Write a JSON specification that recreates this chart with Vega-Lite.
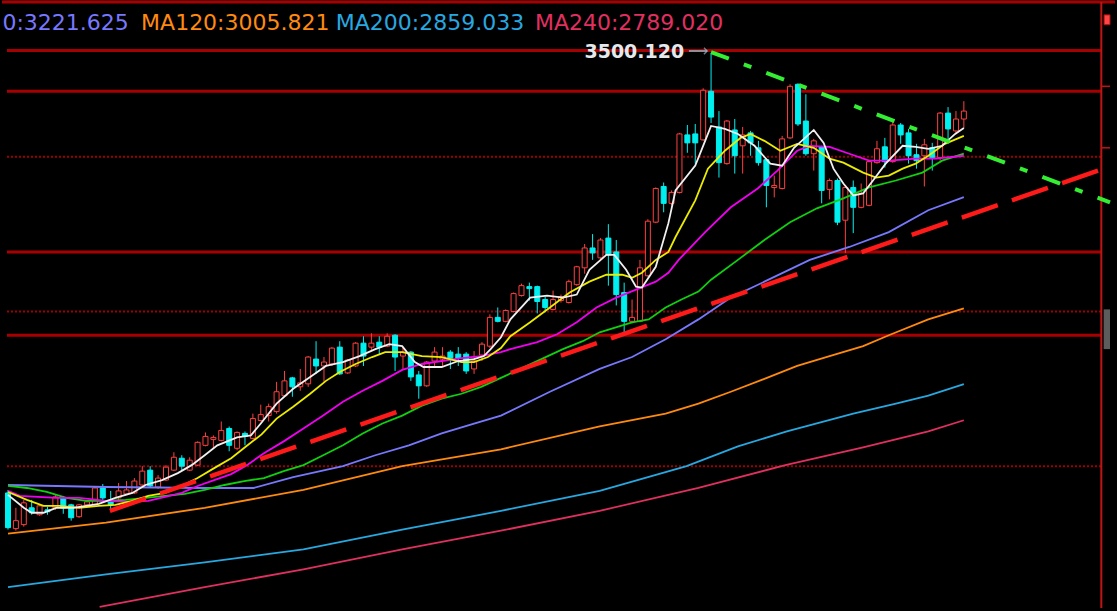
{
"$schema": "https://vega.github.io/schema/vega-lite/v6.json",
"width": 1117, "height": 611,
"autosize": {"type": "fit", "contains": "padding"},
"padding": 0,
"background": "#000000",
"config": {"view": {"stroke": null}},
"datasets": {
"levels": [{"p":3600,"k":"top"},{"p":3505.8,"k":"solid"},{"p":3426.9,"k":"solid"},{"p":3115.4,"k":"solid"},{"p":2953.9,"k":"solid"},{"p":3300,"k":"dot"},{"p":3000,"k":"dot"},{"p":2700,"k":"dot"}],
"edge": [{"i":138.4}],
"sideticks": [{"p":3436.5},{"p":3317.3}],
"sidemark": [{"i":138.75,"i2":139.5,"p":3575,"p2":3556}],
"sidescroll": [{"i":138.7,"i2":139.5,"p":3004,"p2":2927}],
"candles": [
{"i":0,"o":2648.1,"h":2653.9,"l":2577.0,"c":2580.8},
{"i":1,"o":2578.9,"h":2619.3,"l":2575.0,"c":2594.3},
{"i":2,"o":2586.6,"h":2634.6,"l":2582.7,"c":2628.9},
{"i":3,"o":2619.3,"h":2634.6,"l":2605.8,"c":2609.7},
{"i":4,"o":2605.8,"h":2626.9,"l":2603.9,"c":2623.1},
{"i":5,"o":2615.4,"h":2621.2,"l":2605.8,"c":2611.6},
{"i":6,"o":2619.3,"h":2644.3,"l":2615.4,"c":2640.4},
{"i":7,"o":2638.5,"h":2642.3,"l":2607.7,"c":2619.3},
{"i":8,"o":2625.0,"h":2626.9,"l":2594.3,"c":2600.0},
{"i":9,"o":2602.0,"h":2626.9,"l":2600.0,"c":2625.0},
{"i":10,"o":2625.0,"h":2634.6,"l":2621.2,"c":2630.8},
{"i":11,"o":2625.0,"h":2661.6,"l":2623.1,"c":2657.7},
{"i":12,"o":2657.7,"h":2665.4,"l":2634.6,"c":2638.5},
{"i":13,"o":2632.7,"h":2652.0,"l":2615.4,"c":2625.0},
{"i":14,"o":2638.5,"h":2667.3,"l":2634.6,"c":2652.0},
{"i":15,"o":2646.2,"h":2671.2,"l":2644.3,"c":2653.9},
{"i":16,"o":2648.1,"h":2676.9,"l":2646.2,"c":2671.2},
{"i":17,"o":2663.5,"h":2700.0,"l":2661.6,"c":2690.4},
{"i":18,"o":2692.3,"h":2700.0,"l":2657.7,"c":2661.6},
{"i":19,"o":2659.6,"h":2682.7,"l":2655.8,"c":2676.9},
{"i":20,"o":2673.1,"h":2702.0,"l":2671.2,"c":2698.1},
{"i":21,"o":2692.3,"h":2726.9,"l":2690.4,"c":2717.3},
{"i":22,"o":2715.4,"h":2721.2,"l":2692.3,"c":2700.0},
{"i":23,"o":2692.3,"h":2717.3,"l":2690.4,"c":2711.6},
{"i":24,"o":2702.0,"h":2748.1,"l":2700.0,"c":2746.2},
{"i":25,"o":2740.4,"h":2765.4,"l":2738.5,"c":2757.7},
{"i":26,"o":2751.9,"h":2759.6,"l":2734.7,"c":2755.8},
{"i":27,"o":2750.0,"h":2786.6,"l":2748.1,"c":2769.3},
{"i":28,"o":2773.1,"h":2776.9,"l":2728.9,"c":2740.4},
{"i":29,"o":2734.7,"h":2767.3,"l":2730.8,"c":2765.4},
{"i":30,"o":2763.5,"h":2767.3,"l":2740.4,"c":2757.7},
{"i":31,"o":2753.9,"h":2801.9,"l":2751.9,"c":2792.3},
{"i":32,"o":2788.5,"h":2819.3,"l":2786.6,"c":2800.0},
{"i":33,"o":2798.1,"h":2821.2,"l":2786.6,"c":2815.4},
{"i":34,"o":2805.8,"h":2863.5,"l":2801.9,"c":2844.3},
{"i":35,"o":2836.6,"h":2884.6,"l":2834.6,"c":2865.4},
{"i":36,"o":2871.2,"h":2873.1,"l":2834.6,"c":2853.9},
{"i":37,"o":2853.9,"h":2888.5,"l":2846.2,"c":2861.6},
{"i":38,"o":2859.6,"h":2913.5,"l":2853.9,"c":2911.6},
{"i":39,"o":2907.7,"h":2942.3,"l":2878.9,"c":2894.3},
{"i":40,"o":2894.3,"h":2911.6,"l":2863.5,"c":2901.9},
{"i":41,"o":2898.1,"h":2930.8,"l":2894.3,"c":2928.9},
{"i":42,"o":2930.8,"h":2942.3,"l":2876.9,"c":2878.9},
{"i":43,"o":2880.8,"h":2907.7,"l":2878.9,"c":2905.8},
{"i":44,"o":2894.3,"h":2940.4,"l":2892.3,"c":2938.5},
{"i":45,"o":2938.5,"h":2951.9,"l":2894.3,"c":2913.5},
{"i":46,"o":2930.8,"h":2957.7,"l":2923.1,"c":2938.5},
{"i":47,"o":2940.4,"h":2951.9,"l":2917.3,"c":2930.8},
{"i":48,"o":2932.7,"h":2957.7,"l":2930.8,"c":2951.9},
{"i":49,"o":2953.9,"h":2955.8,"l":2884.6,"c":2911.6},
{"i":50,"o":2913.5,"h":2930.8,"l":2888.5,"c":2921.2},
{"i":51,"o":2921.2,"h":2923.1,"l":2865.4,"c":2873.1},
{"i":52,"o":2876.9,"h":2884.6,"l":2830.8,"c":2855.8},
{"i":53,"o":2855.8,"h":2903.9,"l":2853.9,"c":2901.9},
{"i":54,"o":2903.9,"h":2930.8,"l":2894.3,"c":2921.2},
{"i":55,"o":2907.7,"h":2930.8,"l":2894.3,"c":2913.5},
{"i":56,"o":2921.2,"h":2925.0,"l":2888.5,"c":2907.7},
{"i":57,"o":2917.3,"h":2930.8,"l":2894.3,"c":2909.6},
{"i":58,"o":2917.3,"h":2921.2,"l":2878.9,"c":2884.6},
{"i":59,"o":2888.5,"h":2923.1,"l":2878.9,"c":2903.9},
{"i":60,"o":2915.4,"h":2940.4,"l":2903.9,"c":2936.6},
{"i":61,"o":2932.7,"h":2994.3,"l":2928.9,"c":2988.5},
{"i":62,"o":2988.5,"h":3007.7,"l":2978.9,"c":2980.8},
{"i":63,"o":2980.8,"h":3003.9,"l":2978.9,"c":3001.9},
{"i":64,"o":3000.0,"h":3036.6,"l":2998.1,"c":3034.6},
{"i":65,"o":3030.8,"h":3053.9,"l":3028.9,"c":3050.0},
{"i":66,"o":3048.1,"h":3055.8,"l":3021.2,"c":3044.3},
{"i":67,"o":3048.1,"h":3050.0,"l":2996.2,"c":3019.3},
{"i":68,"o":3023.1,"h":3028.9,"l":2998.1,"c":3007.7},
{"i":69,"o":3003.9,"h":3040.4,"l":3001.9,"c":3023.1},
{"i":70,"o":3021.2,"h":3032.7,"l":3017.3,"c":3028.9},
{"i":71,"o":3017.3,"h":3061.6,"l":3015.4,"c":3057.7},
{"i":72,"o":3051.9,"h":3088.5,"l":3050.0,"c":3086.6},
{"i":73,"o":3084.6,"h":3130.8,"l":3073.1,"c":3123.1},
{"i":74,"o":3123.1,"h":3150.0,"l":3100.0,"c":3113.5},
{"i":75,"o":3103.9,"h":3142.3,"l":3100.0,"c":3138.5},
{"i":76,"o":3142.3,"h":3169.2,"l":3050.0,"c":3109.6},
{"i":77,"o":3115.4,"h":3138.5,"l":3011.6,"c":3032.7},
{"i":78,"o":3036.6,"h":3055.8,"l":2953.9,"c":2980.8},
{"i":79,"o":2980.8,"h":3023.1,"l":2976.9,"c":2988.5},
{"i":80,"o":2980.8,"h":3100.0,"l":2978.9,"c":3084.6},
{"i":81,"o":3069.2,"h":3178.9,"l":3067.3,"c":3175.0},
{"i":82,"o":3173.1,"h":3240.4,"l":3171.2,"c":3238.5},
{"i":83,"o":3242.3,"h":3250.0,"l":3192.3,"c":3209.6},
{"i":84,"o":3209.6,"h":3234.6,"l":3205.8,"c":3230.8},
{"i":85,"o":3230.8,"h":3346.2,"l":3228.9,"c":3344.2},
{"i":86,"o":3342.3,"h":3361.5,"l":3307.7,"c":3326.9},
{"i":87,"o":3344.2,"h":3363.5,"l":3286.6,"c":3326.9},
{"i":88,"o":3332.7,"h":3432.7,"l":3330.8,"c":3428.9},
{"i":89,"o":3426.9,"h":3500.12,"l":3365.4,"c":3376.9},
{"i":90,"o":3357.7,"h":3388.5,"l":3259.6,"c":3288.5},
{"i":91,"o":3286.6,"h":3371.2,"l":3284.6,"c":3369.2},
{"i":92,"o":3351.9,"h":3373.1,"l":3267.3,"c":3301.9},
{"i":93,"o":3321.2,"h":3357.7,"l":3267.3,"c":3342.3},
{"i":94,"o":3346.2,"h":3350.0,"l":3301.9,"c":3326.9},
{"i":95,"o":3317.3,"h":3330.8,"l":3282.7,"c":3288.5},
{"i":96,"o":3294.2,"h":3296.2,"l":3201.9,"c":3244.3},
{"i":97,"o":3240.4,"h":3263.5,"l":3221.2,"c":3244.3},
{"i":98,"o":3238.5,"h":3340.4,"l":3236.6,"c":3334.6},
{"i":99,"o":3336.5,"h":3440.4,"l":3334.6,"c":3436.5},
{"i":100,"o":3440.4,"h":3442.3,"l":3359.6,"c":3363.5},
{"i":101,"o":3369.2,"h":3421.2,"l":3301.9,"c":3305.8},
{"i":102,"o":3305.8,"h":3334.6,"l":3273.1,"c":3330.8},
{"i":103,"o":3319.2,"h":3321.2,"l":3209.6,"c":3234.6},
{"i":104,"o":3236.6,"h":3257.7,"l":3217.3,"c":3253.9},
{"i":105,"o":3253.9,"h":3257.7,"l":3167.3,"c":3173.1},
{"i":106,"o":3176.9,"h":3244.3,"l":3113.5,"c":3240.4},
{"i":107,"o":3240.4,"h":3253.9,"l":3151.9,"c":3201.9},
{"i":108,"o":3201.9,"h":3248.1,"l":3200.0,"c":3228.9},
{"i":109,"o":3205.8,"h":3294.2,"l":3203.9,"c":3290.4},
{"i":110,"o":3288.5,"h":3330.8,"l":3286.6,"c":3315.4},
{"i":111,"o":3319.2,"h":3336.5,"l":3278.9,"c":3290.4},
{"i":112,"o":3290.4,"h":3369.2,"l":3288.5,"c":3361.5},
{"i":113,"o":3361.5,"h":3365.4,"l":3325.0,"c":3342.3},
{"i":114,"o":3346.2,"h":3353.9,"l":3286.6,"c":3301.9},
{"i":115,"o":3303.9,"h":3325.0,"l":3276.9,"c":3292.3},
{"i":116,"o":3301.9,"h":3334.6,"l":3242.3,"c":3323.1},
{"i":117,"o":3317.3,"h":3326.9,"l":3273.1,"c":3298.1},
{"i":118,"o":3298.1,"h":3386.5,"l":3292.3,"c":3384.6},
{"i":119,"o":3384.6,"h":3396.2,"l":3330.8,"c":3353.9},
{"i":120,"o":3350.0,"h":3388.5,"l":3344.2,"c":3373.1},
{"i":121,"o":3373.1,"h":3407.7,"l":3355.8,"c":3388.5}
],
"ma": [
{"ma":"MA240","i":11.6,"p":2427.0},{"ma":"MA240","i":24.9,"p":2465.4},{"ma":"MA240","i":37.4,"p":2500.0},{"ma":"MA240","i":49.9,"p":2538.5},{"ma":"MA240","i":62.4,"p":2575.0},{"ma":"MA240","i":74.9,"p":2613.5},{"ma":"MA240","i":87.4,"p":2657.7},{"ma":"MA240","i":98.4,"p":2702.0},{"ma":"MA240","i":108.25,"p":2736.6},{"ma":"MA240","i":116.5,"p":2767.3},{"ma":"MA240","i":121,"p":2789.02},
{"ma":"MA200","i":0,"p":2465.4},{"ma":"MA200","i":12.4,"p":2490.4},{"ma":"MA200","i":24.9,"p":2513.5},{"ma":"MA200","i":37.4,"p":2538.5},{"ma":"MA200","i":49.9,"p":2577.0},{"ma":"MA200","i":62.4,"p":2613.5},{"ma":"MA200","i":74.9,"p":2652.0},{"ma":"MA200","i":85.9,"p":2700.0},{"ma":"MA200","i":92.4,"p":2738.5},{"ma":"MA200","i":98.6,"p":2767.3},{"ma":"MA200","i":107,"p":2801.9},{"ma":"MA200","i":112.4,"p":2821.2},{"ma":"MA200","i":116.5,"p":2836.6},{"ma":"MA200","i":121,"p":2859.033},
{"ma":"MA120","i":0,"p":2569.3},{"ma":"MA120","i":12.4,"p":2590.4},{"ma":"MA120","i":24.9,"p":2619.3},{"ma":"MA120","i":37.4,"p":2653.9},{"ma":"MA120","i":49.9,"p":2700.0},{"ma":"MA120","i":62.4,"p":2732.7},{"ma":"MA120","i":74.9,"p":2777.0},{"ma":"MA120","i":83.25,"p":2801.9},{"ma":"MA120","i":87.4,"p":2821.2},{"ma":"MA120","i":91.5,"p":2844.3},{"ma":"MA120","i":95.75,"p":2869.3},{"ma":"MA120","i":99.9,"p":2894.3},{"ma":"MA120","i":104,"p":2913.5},{"ma":"MA120","i":108.25,"p":2932.7},{"ma":"MA120","i":111.5,"p":2953.9},{"ma":"MA120","i":116.5,"p":2984.6},{"ma":"MA120","i":121,"p":3005.821},
{"ma":"MA60","i":0,"p":2663.5},{"ma":"MA60","i":12.4,"p":2659.6},{"ma":"MA60","i":24.9,"p":2657.7},{"ma":"MA60","i":31.1,"p":2657.7},{"ma":"MA60","i":36.1,"p":2678.9},{"ma":"MA60","i":42.4,"p":2700.0},{"ma":"MA60","i":46.5,"p":2721.2},{"ma":"MA60","i":50.75,"p":2740.4},{"ma":"MA60","i":54.9,"p":2763.5},{"ma":"MA60","i":59,"p":2782.7},{"ma":"MA60","i":62.4,"p":2798.1},{"ma":"MA60","i":68.6,"p":2844.3},{"ma":"MA60","i":74.9,"p":2888.5},{"ma":"MA60","i":79,"p":2911.6},{"ma":"MA60","i":83.25,"p":2946.2},{"ma":"MA60","i":87.4,"p":2984.6},{"ma":"MA60","i":91.5,"p":3026.9},{"ma":"MA60","i":95.75,"p":3057.7},{"ma":"MA60","i":101.5,"p":3100.0},{"ma":"MA60","i":106.5,"p":3125.0},{"ma":"MA60","i":111.5,"p":3153.9},{"ma":"MA60","i":116.5,"p":3196.2},{"ma":"MA60","i":121,"p":3221.625},
{"ma":"MA30","i":0,"p":2661.6},{"ma":"MA30","i":2.4,"p":2657.7},{"ma":"MA30","i":4.9,"p":2650.0},{"ma":"MA30","i":7.4,"p":2638.5},{"ma":"MA30","i":9.9,"p":2632.7},{"ma":"MA30","i":12.4,"p":2632.7},{"ma":"MA30","i":14.9,"p":2634.6},{"ma":"MA30","i":17.4,"p":2638.5},{"ma":"MA30","i":19.9,"p":2642.3},{"ma":"MA30","i":22.4,"p":2646.2},{"ma":"MA30","i":24.9,"p":2653.9},{"ma":"MA30","i":27.4,"p":2663.5},{"ma":"MA30","i":29.9,"p":2671.2},{"ma":"MA30","i":32.4,"p":2676.9},{"ma":"MA30","i":34.9,"p":2690.4},{"ma":"MA30","i":37.4,"p":2702.0},{"ma":"MA30","i":39.9,"p":2721.2},{"ma":"MA30","i":42.4,"p":2740.4},{"ma":"MA30","i":44.9,"p":2763.5},{"ma":"MA30","i":47.4,"p":2782.7},{"ma":"MA30","i":49.9,"p":2798.1},{"ma":"MA30","i":52.4,"p":2817.3},{"ma":"MA30","i":54.9,"p":2830.8},{"ma":"MA30","i":57.4,"p":2840.4},{"ma":"MA30","i":59.9,"p":2853.9},{"ma":"MA30","i":62.4,"p":2871.2},{"ma":"MA30","i":70.25,"p":2927.0},{"ma":"MA30","i":72.75,"p":2942.3},{"ma":"MA30","i":74.9,"p":2959.6},{"ma":"MA30","i":79,"p":2978.9},{"ma":"MA30","i":81.1,"p":2984.6},{"ma":"MA30","i":83.25,"p":3007.7},{"ma":"MA30","i":85.25,"p":3023.1},{"ma":"MA30","i":87.4,"p":3038.5},{"ma":"MA30","i":89,"p":3061.6},{"ma":"MA30","i":92.4,"p":3100.0},{"ma":"MA30","i":95.75,"p":3138.5},{"ma":"MA30","i":99,"p":3173.1},{"ma":"MA30","i":102.4,"p":3200.0},{"ma":"MA30","i":105.75,"p":3219.2},{"ma":"MA30","i":109,"p":3240.4},{"ma":"MA30","i":112.4,"p":3253.9},{"ma":"MA30","i":115.75,"p":3269.2},{"ma":"MA30","i":118.25,"p":3292.3},{"ma":"MA30","i":121,"p":3305.8},
{"ma":"MA20","i":0,"p":2652.0},{"ma":"MA20","i":1.5,"p":2642.3},{"ma":"MA20","i":6.1,"p":2638.5},{"ma":"MA20","i":9,"p":2638.5},{"ma":"MA20","i":12.4,"p":2632.7},{"ma":"MA20","i":15.25,"p":2630.8},{"ma":"MA20","i":17.75,"p":2632.7},{"ma":"MA20","i":19.9,"p":2640.4},{"ma":"MA20","i":22,"p":2648.1},{"ma":"MA20","i":24,"p":2661.6},{"ma":"MA20","i":26.1,"p":2673.1},{"ma":"MA20","i":28.25,"p":2684.7},{"ma":"MA20","i":30.25,"p":2702.0},{"ma":"MA20","i":32.4,"p":2725.0},{"ma":"MA20","i":34.9,"p":2748.1},{"ma":"MA20","i":37.4,"p":2773.1},{"ma":"MA20","i":39.9,"p":2798.1},{"ma":"MA20","i":42.4,"p":2825.0},{"ma":"MA20","i":44.9,"p":2846.2},{"ma":"MA20","i":47.4,"p":2865.4},{"ma":"MA20","i":49.9,"p":2886.6},{"ma":"MA20","i":52.4,"p":2898.1},{"ma":"MA20","i":54.9,"p":2903.9},{"ma":"MA20","i":57.4,"p":2909.6},{"ma":"MA20","i":59.9,"p":2913.5},{"ma":"MA20","i":62.4,"p":2921.2},{"ma":"MA20","i":63.6,"p":2927.0},{"ma":"MA20","i":67,"p":2940.4},{"ma":"MA20","i":69.5,"p":2955.8},{"ma":"MA20","i":72,"p":2978.9},{"ma":"MA20","i":74.5,"p":3007.7},{"ma":"MA20","i":77,"p":3026.9},{"ma":"MA20","i":79.5,"p":3042.3},{"ma":"MA20","i":82,"p":3057.7},{"ma":"MA20","i":83.6,"p":3075.0},{"ma":"MA20","i":84.9,"p":3100.0},{"ma":"MA20","i":88.25,"p":3153.9},{"ma":"MA20","i":91.5,"p":3201.9},{"ma":"MA20","i":94.9,"p":3238.5},{"ma":"MA20","i":97.4,"p":3273.1},{"ma":"MA20","i":99.9,"p":3311.6},{"ma":"MA20","i":101.5,"p":3321.2},{"ma":"MA20","i":104,"p":3319.2},{"ma":"MA20","i":106.5,"p":3305.8},{"ma":"MA20","i":109,"p":3292.3},{"ma":"MA20","i":111.5,"p":3292.3},{"ma":"MA20","i":114.9,"p":3296.2},{"ma":"MA20","i":117.4,"p":3296.2},{"ma":"MA20","i":121,"p":3301.9},
{"ma":"MA10","i":0,"p":2650.0},{"ma":"MA10","i":2.4,"p":2634.6},{"ma":"MA10","i":4.5,"p":2623.1},{"ma":"MA10","i":6.5,"p":2623.1},{"ma":"MA10","i":9,"p":2619.3},{"ma":"MA10","i":11.5,"p":2623.1},{"ma":"MA10","i":13.6,"p":2625.0},{"ma":"MA10","i":15.75,"p":2632.7},{"ma":"MA10","i":17.75,"p":2642.3},{"ma":"MA10","i":19.9,"p":2648.1},{"ma":"MA10","i":22,"p":2661.6},{"ma":"MA10","i":24,"p":2676.9},{"ma":"MA10","i":26.1,"p":2696.2},{"ma":"MA10","i":28.25,"p":2715.4},{"ma":"MA10","i":30,"p":2736.6},{"ma":"MA10","i":32.1,"p":2761.6},{"ma":"MA10","i":34,"p":2792.3},{"ma":"MA10","i":36.1,"p":2815.4},{"ma":"MA10","i":38.25,"p":2840.4},{"ma":"MA10","i":40.25,"p":2865.4},{"ma":"MA10","i":42,"p":2882.7},{"ma":"MA10","i":44,"p":2898.1},{"ma":"MA10","i":46.1,"p":2911.6},{"ma":"MA10","i":47.75,"p":2921.2},{"ma":"MA10","i":49.9,"p":2921.2},{"ma":"MA10","i":52.4,"p":2913.5},{"ma":"MA10","i":54.9,"p":2911.6},{"ma":"MA10","i":57.4,"p":2901.9},{"ma":"MA10","i":59,"p":2901.9},{"ma":"MA10","i":60.75,"p":2911.6},{"ma":"MA10","i":62.4,"p":2928.9},{"ma":"MA10","i":63.6,"p":2951.9},{"ma":"MA10","i":66.1,"p":2978.9},{"ma":"MA10","i":68.6,"p":3007.7},{"ma":"MA10","i":71.1,"p":3036.6},{"ma":"MA10","i":73.6,"p":3057.7},{"ma":"MA10","i":75.75,"p":3071.2},{"ma":"MA10","i":77.75,"p":3071.2},{"ma":"MA10","i":79,"p":3065.4},{"ma":"MA10","i":80.25,"p":3075.0},{"ma":"MA10","i":82,"p":3100.0},{"ma":"MA10","i":83.6,"p":3115.4},{"ma":"MA10","i":84.5,"p":3144.3},{"ma":"MA10","i":87,"p":3215.4},{"ma":"MA10","i":88.6,"p":3276.9},{"ma":"MA10","i":90.75,"p":3311.6},{"ma":"MA10","i":92.75,"p":3336.5},{"ma":"MA10","i":94,"p":3344.2},{"ma":"MA10","i":95.75,"p":3330.8},{"ma":"MA10","i":97.75,"p":3311.6},{"ma":"MA10","i":99.9,"p":3325.0},{"ma":"MA10","i":102,"p":3317.3},{"ma":"MA10","i":104,"p":3296.2},{"ma":"MA10","i":105.75,"p":3288.5},{"ma":"MA10","i":108.25,"p":3269.2},{"ma":"MA10","i":109.9,"p":3259.6},{"ma":"MA10","i":111.5,"p":3263.5},{"ma":"MA10","i":113.25,"p":3276.9},{"ma":"MA10","i":114.9,"p":3286.6},{"ma":"MA10","i":116.5,"p":3301.9},{"ma":"MA10","i":118.6,"p":3325.0},{"ma":"MA10","i":121,"p":3340.4},
{"ma":"MA5","i":0,"p":2644.3},{"ma":"MA5","i":2,"p":2619.3},{"ma":"MA5","i":3,"p":2609.7},{"ma":"MA5","i":4.5,"p":2609.7},{"ma":"MA5","i":6.1,"p":2619.3},{"ma":"MA5","i":8.25,"p":2619.3},{"ma":"MA5","i":9.9,"p":2623.1},{"ma":"MA5","i":11.5,"p":2626.9},{"ma":"MA5","i":13.6,"p":2638.5},{"ma":"MA5","i":15.75,"p":2648.1},{"ma":"MA5","i":17.4,"p":2663.5},{"ma":"MA5","i":19.5,"p":2673.1},{"ma":"MA5","i":21.5,"p":2686.6},{"ma":"MA5","i":23.25,"p":2702.0},{"ma":"MA5","i":24.9,"p":2721.2},{"ma":"MA5","i":26.5,"p":2740.4},{"ma":"MA5","i":29,"p":2755.8},{"ma":"MA5","i":30.75,"p":2759.6},{"ma":"MA5","i":32,"p":2782.7},{"ma":"MA5","i":34,"p":2821.2},{"ma":"MA5","i":36.1,"p":2850.0},{"ma":"MA5","i":38.25,"p":2873.1},{"ma":"MA5","i":40.25,"p":2894.3},{"ma":"MA5","i":42.4,"p":2901.9},{"ma":"MA5","i":44.5,"p":2913.5},{"ma":"MA5","i":46.5,"p":2927.0},{"ma":"MA5","i":48.25,"p":2936.6},{"ma":"MA5","i":49.9,"p":2932.7},{"ma":"MA5","i":51.5,"p":2901.9},{"ma":"MA5","i":52.6,"p":2892.3},{"ma":"MA5","i":54.9,"p":2892.3},{"ma":"MA5","i":57,"p":2903.9},{"ma":"MA5","i":59,"p":2907.7},{"ma":"MA5","i":60.25,"p":2913.5},{"ma":"MA5","i":61.1,"p":2927.0},{"ma":"MA5","i":62.4,"p":2950.0},{"ma":"MA5","i":63.6,"p":2984.6},{"ma":"MA5","i":66.1,"p":3026.9},{"ma":"MA5","i":68.25,"p":3030.8},{"ma":"MA5","i":70.25,"p":3026.9},{"ma":"MA5","i":72,"p":3032.7},{"ma":"MA5","i":73.6,"p":3080.8},{"ma":"MA5","i":75.75,"p":3109.6},{"ma":"MA5","i":76.75,"p":3109.6},{"ma":"MA5","i":78.25,"p":3080.8},{"ma":"MA5","i":79.5,"p":3048.1},{"ma":"MA5","i":80.25,"p":3046.2},{"ma":"MA5","i":82,"p":3086.6},{"ma":"MA5","i":83.6,"p":3171.2},{"ma":"MA5","i":84.5,"p":3234.6},{"ma":"MA5","i":87,"p":3282.7},{"ma":"MA5","i":88.25,"p":3330.8},{"ma":"MA5","i":89,"p":3359.6},{"ma":"MA5","i":90.75,"p":3353.9},{"ma":"MA5","i":92.4,"p":3344.2},{"ma":"MA5","i":94.5,"p":3321.2},{"ma":"MA5","i":96.5,"p":3286.6},{"ma":"MA5","i":98,"p":3282.7},{"ma":"MA5","i":99.5,"p":3317.3},{"ma":"MA5","i":102,"p":3351.9},{"ma":"MA5","i":103.25,"p":3326.9},{"ma":"MA5","i":104.5,"p":3276.9},{"ma":"MA5","i":105.75,"p":3248.1},{"ma":"MA5","i":107,"p":3225.0},{"ma":"MA5","i":108.25,"p":3228.9},{"ma":"MA5","i":109.5,"p":3253.9},{"ma":"MA5","i":111.1,"p":3286.6},{"ma":"MA5","i":113.25,"p":3321.2},{"ma":"MA5","i":114.9,"p":3319.2},{"ma":"MA5","i":116.5,"p":3315.4},{"ma":"MA5","i":118.25,"p":3321.2},{"ma":"MA5","i":119.9,"p":3344.2},{"ma":"MA5","i":121,"p":3355.8}
],
"redTrend": [{"i":12.9,"p":2613.5},{"i":139.5,"p":3281.0}],
"greenTrend": [{"i":89,"p":3503.0},{"i":139.5,"p":3211.6}],
"ann": [{"i":85.6,"p":3504.0,"label":"3500.120"}],
"arrow": [{"i":86.2,"i2":88.5,"p":3505.0}],
"legend": [{"ma":"MA60","i":15.3,"p":3546.2,"label":"MA60:3221.625"},{"ma":"MA120","i":16.85,"p":3546.2,"label":"MA120:3005.821"},{"ma":"MA200","i":41.5,"p":3546.2,"label":"MA200:2859.033"},{"ma":"MA240","i":66.7,"p":3546.2,"label":"MA240:2789.020"}]
},
"layer": [
{"data": {"name": "levels"}, "transform": [{"filter": "datum.k == 'top'"}],
 "mark": {"type": "rule", "color": "#a80000", "strokeWidth": 3},
 "encoding": {"y": {"field": "p", "type": "quantitative", "scale": {"domain": [2425, 3600], "nice": false, "zero": false}, "axis": null}}},
{"data": {"name": "levels"}, "transform": [{"filter": "datum.k == 'solid'"}],
 "mark": {"type": "rule", "color": "#a80000", "strokeWidth": 3},
 "encoding": {"y": {"field": "p", "type": "quantitative", "scale": {"domain": [2425, 3600], "nice": false, "zero": false}, "axis": null},
   "x": {"datum": -0.125, "type": "quantitative", "scale": {"domain": [-0.125, 139.5], "nice": false, "zero": false}, "axis": null},
   "x2": {"datum": 138.4}}},
{"data": {"name": "levels"}, "transform": [{"filter": "datum.k == 'dot'"}],
 "mark": {"type": "rule", "color": "#a00000", "strokeWidth": 2, "strokeDash": [2, 2]},
 "encoding": {"y": {"field": "p", "type": "quantitative", "scale": {"domain": [2425, 3600], "nice": false, "zero": false}, "axis": null},
   "x": {"datum": -0.125, "type": "quantitative", "scale": {"domain": [-0.125, 139.5], "nice": false, "zero": false}, "axis": null},
   "x2": {"datum": 138.4}}},
{"data": {"name": "edge"},
 "mark": {"type": "rule", "color": "#c01414", "strokeWidth": 2},
 "encoding": {"x": {"field": "i", "type": "quantitative", "scale": {"domain": [-0.125, 139.5], "nice": false, "zero": false}, "axis": null}}},
{"data": {"name": "sideticks"},
 "mark": {"type": "rule", "color": "#c01414", "strokeWidth": 1.5},
 "encoding": {"y": {"field": "p", "type": "quantitative", "scale": {"domain": [2425, 3600], "nice": false, "zero": false}, "axis": null},
   "x": {"datum": 138.4, "type": "quantitative", "scale": {"domain": [-0.125, 139.5], "nice": false, "zero": false}, "axis": null},
   "x2": {"datum": 139.5}}},
{"data": {"name": "sidemark"},
 "mark": {"type": "rect", "fill": "#ff4646", "stroke": "#b01010", "strokeWidth": 1},
 "encoding": {"x": {"field": "i", "type": "quantitative", "scale": {"domain": [-0.125, 139.5], "nice": false, "zero": false}, "axis": null}, "x2": {"field": "i2"},
   "y": {"field": "p", "type": "quantitative", "scale": {"domain": [2425, 3600], "nice": false, "zero": false}, "axis": null}, "y2": {"field": "p2"}}},
{"data": {"name": "sidescroll"},
 "mark": {"type": "rect", "fill": "#5c5c5c"},
 "encoding": {"x": {"field": "i", "type": "quantitative", "scale": {"domain": [-0.125, 139.5], "nice": false, "zero": false}, "axis": null}, "x2": {"field": "i2"},
   "y": {"field": "p", "type": "quantitative", "scale": {"domain": [2425, 3600], "nice": false, "zero": false}, "axis": null}, "y2": {"field": "p2"}}},
{"data": {"name": "candles"},
 "mark": {"type": "rule", "strokeWidth": 1},
 "encoding": {"x": {"field": "i", "type": "quantitative", "scale": {"domain": [-0.125, 139.5], "nice": false, "zero": false}, "axis": null},
   "y": {"field": "h", "type": "quantitative", "scale": {"domain": [2425, 3600], "nice": false, "zero": false}, "axis": null},
   "y2": {"field": "l"},
   "color": {"condition": {"test": "datum.c >= datum.o", "value": "#ff4040"}, "value": "#00f0f0"}}},
{"data": {"name": "candles"},
 "mark": {"type": "bar", "width": 5, "strokeWidth": 1},
 "encoding": {"x": {"field": "i", "type": "quantitative", "scale": {"domain": [-0.125, 139.5], "nice": false, "zero": false}, "axis": null},
   "y": {"field": "o", "type": "quantitative", "scale": {"domain": [2425, 3600], "nice": false, "zero": false}, "axis": null},
   "y2": {"field": "c"},
   "fill": {"condition": {"test": "datum.c >= datum.o", "value": "#000000"}, "value": "#00f0f0"},
   "stroke": {"condition": {"test": "datum.c >= datum.o", "value": "#ff4040"}, "value": "#00f0f0"}}},
{"data": {"name": "ma"},
 "mark": {"type": "line", "strokeWidth": 1.8},
 "encoding": {"x": {"field": "i", "type": "quantitative", "scale": {"domain": [-0.125, 139.5], "nice": false, "zero": false}, "axis": null},
   "y": {"field": "p", "type": "quantitative", "scale": {"domain": [2425, 3600], "nice": false, "zero": false}, "axis": null},
   "color": {"field": "ma", "type": "nominal", "legend": null,
     "scale": {"domain": ["MA5","MA10","MA20","MA30","MA60","MA120","MA200","MA240"], "range": ["#f0f0f0","#ecec00","#f000f0","#10d010","#7878ff","#ff8a10","#28a8e0","#e03060"]}}}},
{"data": {"name": "redTrend"},
 "mark": {"type": "line", "color": "#ff1a1a", "strokeWidth": 4.5, "strokeDash": [38, 15], "clip": true},
 "encoding": {"x": {"field": "i", "type": "quantitative", "scale": {"domain": [-0.125, 139.5], "nice": false, "zero": false}, "axis": null},
   "y": {"field": "p", "type": "quantitative", "scale": {"domain": [2425, 3600], "nice": false, "zero": false}, "axis": null}}},
{"data": {"name": "greenTrend"},
 "mark": {"type": "line", "color": "#33ee33", "strokeWidth": 4, "strokeDash": [19, 16, 8, 16], "clip": true},
 "encoding": {"x": {"field": "i", "type": "quantitative", "scale": {"domain": [-0.125, 139.5], "nice": false, "zero": false}, "axis": null},
   "y": {"field": "p", "type": "quantitative", "scale": {"domain": [2425, 3600], "nice": false, "zero": false}, "axis": null}}},
{"data": {"name": "arrow"},
 "mark": {"type": "rule", "color": "#90b8c8", "strokeWidth": 1.5},
 "encoding": {"x": {"field": "i", "type": "quantitative", "scale": {"domain": [-0.125, 139.5], "nice": false, "zero": false}, "axis": null}, "x2": {"field": "i2"},
   "y": {"field": "p", "type": "quantitative", "scale": {"domain": [2425, 3600], "nice": false, "zero": false}, "axis": null}}},
{"data": {"name": "arrow"},
 "mark": {"type": "point", "shape": "M-1,-1L0,0L-1,1", "filled": false, "stroke": "#90b8c8", "strokeWidth": 1.5, "size": 40},
 "encoding": {"x": {"field": "i2", "type": "quantitative", "scale": {"domain": [-0.125, 139.5], "nice": false, "zero": false}, "axis": null},
   "y": {"field": "p", "type": "quantitative", "scale": {"domain": [2425, 3600], "nice": false, "zero": false}, "axis": null}}},
{"data": {"name": "ann"},
 "mark": {"type": "text", "align": "right", "baseline": "middle", "font": "DejaVu Sans", "fontWeight": "bold", "fontSize": 19, "fill": "#e4e8ec"},
 "encoding": {"x": {"field": "i", "type": "quantitative", "scale": {"domain": [-0.125, 139.5], "nice": false, "zero": false}, "axis": null},
   "y": {"field": "p", "type": "quantitative", "scale": {"domain": [2425, 3600], "nice": false, "zero": false}, "axis": null},
   "text": {"field": "label"}}},
{"data": {"name": "legend"}, "transform": [{"filter": "datum.ma == 'MA60'"}],
 "mark": {"type": "text", "align": "right", "baseline": "alphabetic", "font": "DejaVu Sans", "fontSize": 22, "clip": true},
 "encoding": {"x": {"field": "i", "type": "quantitative", "scale": {"domain": [-0.125, 139.5], "nice": false, "zero": false}, "axis": null},
   "y": {"field": "p", "type": "quantitative", "scale": {"domain": [2425, 3600], "nice": false, "zero": false}, "axis": null},
   "text": {"field": "label"},
   "color": {"field": "ma", "type": "nominal", "legend": null,
     "scale": {"domain": ["MA5","MA10","MA20","MA30","MA60","MA120","MA200","MA240"], "range": ["#f0f0f0","#ecec00","#f000f0","#10d010","#7878ff","#ff8a10","#28a8e0","#e03060"]}}}},
{"data": {"name": "legend"}, "transform": [{"filter": "datum.ma != 'MA60'"}],
 "mark": {"type": "text", "align": "left", "baseline": "alphabetic", "font": "DejaVu Sans", "fontSize": 22},
 "encoding": {"x": {"field": "i", "type": "quantitative", "scale": {"domain": [-0.125, 139.5], "nice": false, "zero": false}, "axis": null},
   "y": {"field": "p", "type": "quantitative", "scale": {"domain": [2425, 3600], "nice": false, "zero": false}, "axis": null},
   "text": {"field": "label"},
   "color": {"field": "ma", "type": "nominal", "legend": null,
     "scale": {"domain": ["MA5","MA10","MA20","MA30","MA60","MA120","MA200","MA240"], "range": ["#f0f0f0","#ecec00","#f000f0","#10d010","#7878ff","#ff8a10","#28a8e0","#e03060"]}}}}
]
}
